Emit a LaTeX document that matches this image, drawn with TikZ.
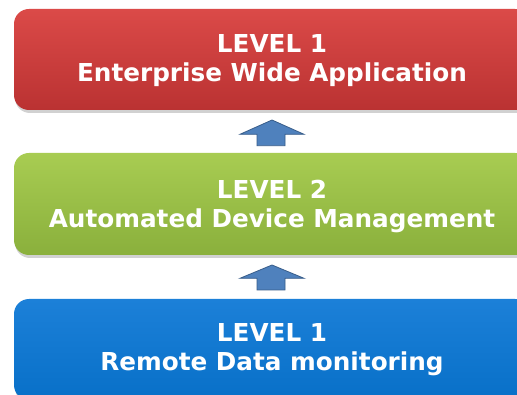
\documentclass[tikz,border=0pt]{standalone}
\usepackage{fontspec}
\setmainfont{DejaVu Sans}
\usetikzlibrary{shapes.arrows}
\definecolor{redtop}{RGB}{219,74,72}
\definecolor{redbot}{RGB}{186,50,50}
\definecolor{greentop}{RGB}{168,204,82}
\definecolor{greenbot}{RGB}{138,176,60}
\definecolor{bluetop}{RGB}{28,128,216}
\definecolor{bluebot}{RGB}{8,112,200}
\definecolor{arrowfill}{RGB}{79,129,189}
\definecolor{arrowline}{RGB}{56,93,138}
\tikzset{
  levelbox/.style={rounded corners=15pt},
  shadowbox/.style={rounded corners=15pt, fill=black, opacity=0.18},
  leveltext/.style={text=white, font=\bfseries\fontsize{24.7}{29}\selectfont, align=center, inner sep=0pt},
  uparrow/.style={fill=arrowfill, draw=arrowline, line width=0.8pt, line join=miter}
}
\begin{document}
\begin{tikzpicture}[x=1pt,y=-1pt]
\useasboundingbox (0,0) rectangle (517,395);
\clip (0,0) rectangle (517,395);
\fill[white] (0,0) rectangle (517,395);
% shadows
\fill[shadowbox] (15,12) rectangle (531,113);
\fill[shadowbox] (15,156) rectangle (531,258);
\fill[shadowbox] (15,302) rectangle (531,403);
% boxes
\shade[levelbox, top color=redtop, bottom color=redbot] (14,9) rectangle (530,110);
\shade[levelbox, top color=greentop, bottom color=greenbot] (14,153) rectangle (530,255);
\shade[levelbox, top color=bluetop, bottom color=bluebot] (14,299) rectangle (530,400);
\node[coordinate] (c1) at (272,82) {};
\node[coordinate] (c2) at (272,228) {};
\node[coordinate] (c3) at (272,371) {};
\node[leveltext, anchor=base] (t1) at (c1) {LEVEL 1\\Enterprise Wide Application};
\node[leveltext, anchor=base] (t2) at (c2) {LEVEL 2\\Automated Device Management};
\node[leveltext, anchor=base] (t3) at (c3) {LEVEL 1\\Remote Data monitoring};
% arrows
\draw[uparrow] (272,120) -- (304,134.3) -- (285,134.3) -- (285,145.7) -- (257,145.7) -- (257,134.3) -- (240,134.3) -- cycle;
\draw[uparrow] (272,265) -- (304,278.3) -- (285,278.3) -- (285,290) -- (257,290) -- (257,278.3) -- (240,278.3) -- cycle;
\end{tikzpicture}
\end{document}
